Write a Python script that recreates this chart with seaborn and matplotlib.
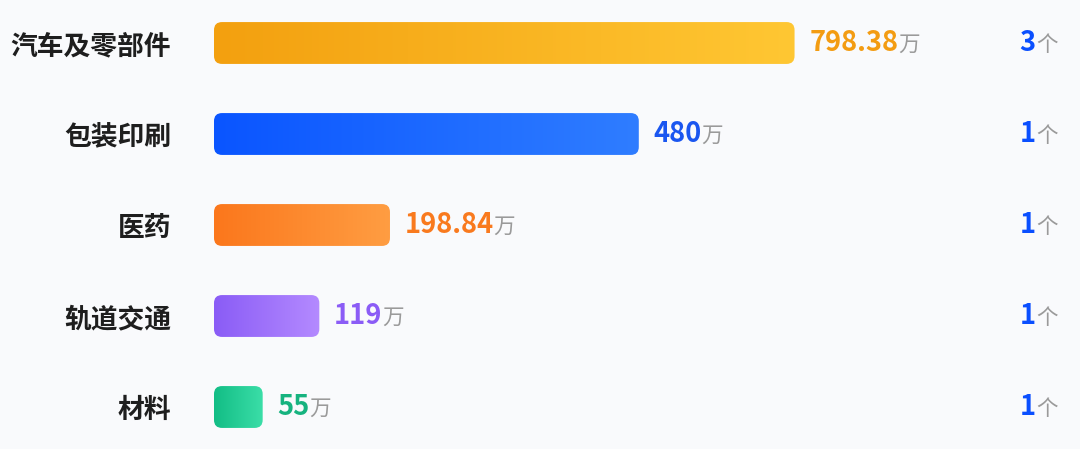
import matplotlib
matplotlib.use('Agg')
import matplotlib.pyplot as plt
import seaborn as sns
import numpy as np
import pandas as pd
from matplotlib.patches import FancyBboxPatch
from matplotlib.colors import LinearSegmentedColormap
from matplotlib import transforms
from matplotlib.offsetbox import TextArea, HPacker, AnnotationBbox

# ---------------- data ----------------
categories = ['汽车及零部件', '包装印刷', '医药', '轨道交通', '材料']
amounts = [798.38, 480, 198.84, 119, 55]
amount_labels = ['798.38', '480', '198.84', '119', '55']
counts = [3, 1, 1, 1, 1]
amount_unit = '万'
count_unit = '个'

# ---------------- style ----------------
grad_left = ['#F3A00F', '#0A55FF', '#FB771C', '#8A5CF6', '#12BD85']
grad_right = ['#FFC733', '#2F7DFF', '#FF9D42', '#B48AFF', '#3BDEA8']
label_colors = ['#F39C12', '#1A56F0', '#F97A1E', '#8B5CF6', '#16B37F']
count_color = '#0A4FFF'
unit_color = '#9A9A9A'
BG = '#F9FAFC'
MAX_BAR = 656          # longest drawn bar is capped (design of the original)
PX_PER_UNIT = 0.885    # horizontal scale

sns.set_theme(style='white')
FONTS = ['Noto Sans CJK SC', 'DejaVu Sans']
plt.rcParams['font.family'] = FONTS

W, H = 1080, 449
fig = plt.figure(figsize=(W / 100, H / 100), dpi=100, facecolor=BG)
ax = fig.add_axes([214 / W, 0, (W - 214) / W, 1])
ax.set_facecolor(BG)

df = pd.DataFrame({'category': categories, 'amount': amounts})
df['shown'] = df['amount'].clip(upper=MAX_BAR)
sns.barplot(data=df, x='shown', y='category', orient='h', width=0.46,
            ax=ax, color='white', edgecolor='none')

xmax = (W - 214) / PX_PER_UNIT
ylim = (4 + 42 / 91, -43 / 91)
r_x = 8 / PX_PER_UNIT
r_y = 8 / 91
aspect = r_y / r_x

grad = np.linspace(0, 1, 256).reshape(1, -1)
bars = list(ax.patches)
trans = transforms.blended_transform_factory(fig.transFigure, ax.transData)
for i, p in enumerate(bars):
    x0, y0, w, h = p.get_x(), p.get_y(), p.get_width(), p.get_height()
    p.set_visible(False)
    rp = FancyBboxPatch((x0, y0), w, h,
                        boxstyle=f'round,pad=0,rounding_size={r_x}',
                        mutation_aspect=aspect, facecolor='none',
                        edgecolor='none', zorder=2)
    ax.add_patch(rp)
    cmap = LinearSegmentedColormap.from_list(f'g{i}', [grad_left[i], grad_right[i]])
    im = ax.imshow(grad, cmap=cmap, extent=(x0, x0 + w, y0 + h, y0),
                   aspect='auto', zorder=2, interpolation='bilinear')
    im.set_clip_path(rp)

    # value label
    num = TextArea(amount_labels[i], textprops=dict(fontsize=19.6, fontweight='bold',
                                                    color=label_colors[i], family=FONTS))
    unit = TextArea(amount_unit, textprops=dict(fontsize=15.5, color=unit_color, family=FONTS))
    pack = HPacker(children=[num, unit], align='baseline', sep=0, pad=0)
    ab = AnnotationBbox(pack, (x0 + w, y0 + h / 2), xybox=(10.5, 0),
                        boxcoords='offset points', box_alignment=(0, 0.5),
                        frameon=False, pad=0)
    ax.add_artist(ab)

    # count label
    cnum = TextArea(str(counts[i]), textprops=dict(fontsize=19.6, fontweight='bold',
                                                   color=count_color, family=FONTS))
    cunit = TextArea(count_unit, textprops=dict(fontsize=15.5, color=unit_color, family=FONTS))
    cpack = HPacker(children=[cnum, cunit], align='baseline', sep=0.5, pad=0)
    cab = AnnotationBbox(cpack, (1058 / W, y0 + h / 2), xycoords=trans,
                         box_alignment=(1, 0.5), frameon=False, pad=0)
    ax.add_artist(cab)

ax.set_xlim(0, xmax)
ax.set_ylim(*ylim)
ax.set_yticks(range(len(categories)))
ax.set_yticklabels(categories, fontsize=19.3, fontweight='bold', color='#1E1E1E')
ax.tick_params(axis='y', length=0, pad=31)
ax.set_xticks([])
ax.set_xlabel('')
ax.set_ylabel('')
for s in ax.spines.values():
    s.set_visible(False)

fig.savefig('out.png', dpi=100, facecolor=BG)
